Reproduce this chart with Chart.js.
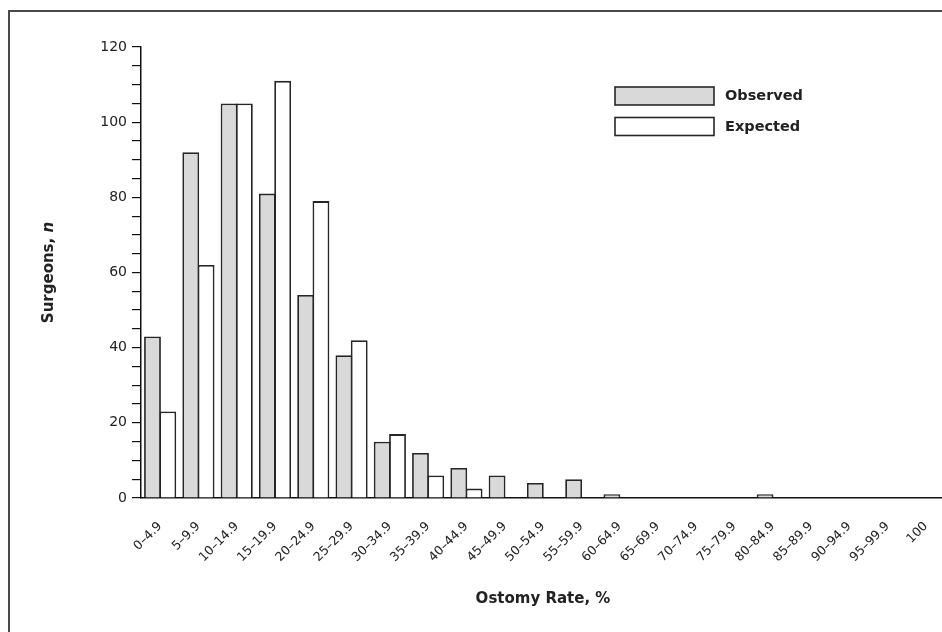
<!DOCTYPE html>
<html>
<head>
<meta charset="utf-8">
<title>Ostomy Rate by Surgeon</title>
<script src="https://cdn.jsdelivr.net/npm/chart.js@4/dist/chart.umd.min.js"></script>
<style>
  html, body { margin: 0; padding: 0; background: #fff; overflow: hidden; width: 942px; height: 632px; }
  #frame { position: absolute; left: 8px; top: 10px; width: 1100px; height: 800px;
           border-left: 2px solid #4a4a4a; border-top: 2px solid #4a4a4a; box-sizing: border-box; }
  #chart { position: absolute; left: 0; top: 0; }
</style>
</head>
<body>
<div id="frame"></div>
<canvas id="chart" width="1000" height="680"></canvas>
<script>
// Ostomy-rate bins (percent of cases per surgeon)
const categories = [
  '0–4.9', '5–9.9', '10–14.9', '15–19.9', '20–24.9', '25–29.9', '30–34.9',
  '35–39.9', '40–44.9', '45–49.9', '50–54.9', '55–59.9', '60–64.9', '65–69.9',
  '70–74.9', '75–79.9', '80–84.9', '85–89.9', '90–94.9', '95–99.9', '100'
];

// Number of surgeons in each bin
const observed = [43, 92, 105, 81, 54, 38, 15, 12, 8, 6, 4, 5, 1, 0, 0, 0, 1, 0, 0, 0, 0];
const expected = [23, 62, 105, 111, 79, 42, 17, 6, 2.5, 0, 0, 0, 0, 0, 0, 0, 0, 0, 0, 0, 0];

// Labelled values on the count axis (minor ticks every 5 in between)
const yTickLabels = [0, 20, 40, 60, 80, 100, 120];

const seriesNames = ['Observed', 'Expected'];
const xTitle = 'Ostomy Rate, %';
const yTitleMain = 'Surgeons, ';
const yTitleItalic = 'n';

const FONT = "'DejaVu Sans', sans-serif";
const INK = '#222';

Chart.defaults.font.family = FONT;
Chart.defaults.color = INK;

// Vertical axis title with an italic "n"
const yTitlePlugin = {
  id: 'yTitle',
  afterDraw(chart) {
    const { ctx, chartArea } = chart;
    const cx = 49;
    const cy = (chartArea.top + chartArea.bottom) / 2;
    ctx.save();
    ctx.translate(cx, cy);
    ctx.rotate(-Math.PI / 2);
    ctx.fillStyle = INK;
    ctx.textBaseline = 'middle';
    const fMain = `bold 15px ${FONT}`;
    const fIt = `italic bold 15px ${FONT}`;
    ctx.font = fMain;
    const w1 = ctx.measureText(yTitleMain).width;
    ctx.font = fIt;
    const w2 = ctx.measureText(yTitleItalic).width;
    const x0 = -(w1 + w2) / 2;
    ctx.font = fMain;
    ctx.textAlign = 'left';
    ctx.fillText(yTitleMain, x0, 0);
    ctx.font = fIt;
    ctx.fillText(yTitleItalic, x0 + w1, 0);
    ctx.restore();
  }
};

// Stacked legend drawn inside the plot area
const innerLegendPlugin = {
  id: 'innerLegend',
  afterDraw(chart, args, opts) {
    const { ctx } = chart;
    ctx.save();
    chart.data.datasets.forEach((ds, i) => {
      const x = opts.x;
      const y = opts.y + i * opts.rowGap;
      ctx.fillStyle = ds.backgroundColor;
      ctx.fillRect(x, y, opts.boxWidth, opts.boxHeight);
      ctx.lineWidth = 1.6;
      ctx.strokeStyle = ds.borderColor;
      ctx.strokeRect(x, y, opts.boxWidth, opts.boxHeight);
      ctx.fillStyle = INK;
      ctx.font = `bold 14.5px ${FONT}`;
      ctx.textAlign = 'left';
      ctx.textBaseline = 'middle';
      ctx.fillText(ds.label, x + opts.boxWidth + 11, y + opts.boxHeight / 2 + 0.5);
    });
    ctx.restore();
  }
};

// Bars of a pair share their middle edge
const barStyle = {
  borderColor: '#262626',
  borderWidth: 1.8,
  categoryPercentage: 0.8,
  barPercentage: 1.1
};

new Chart(document.getElementById('chart'), {
  type: 'bar',
  data: {
    labels: categories,
    datasets: [
      Object.assign({ label: seriesNames[0], data: observed, backgroundColor: '#d9d9d9' }, barStyle),
      Object.assign({ label: seriesNames[1], data: expected, backgroundColor: '#ffffff' }, barStyle)
    ]
  },
  options: {
    responsive: false,
    animation: false,
    devicePixelRatio: 1,
    layout: { padding: { top: 47, right: 55, bottom: 72, left: 0 } },
    plugins: {
      legend: { display: false },
      tooltip: { enabled: false },
      innerLegend: { x: 615, y: 87, rowGap: 30.5, boxWidth: 99, boxHeight: 18 }
    },
    scales: {
      x: {
        afterFit(scale) { scale.height = 110; },
        grid: { display: false, drawTicks: false },
        border: { display: true, color: '#111', width: 1.5 },
        ticks: {
          autoSkip: false,
          minRotation: 45,
          maxRotation: 45,
          padding: 21,
          color: INK,
          font: { size: 12.5 }
        },
        title: {
          display: true,
          text: xTitle,
          color: INK,
          font: { size: 15, weight: 'bold' },
          padding: { top: 0, bottom: 0 }
        }
      },
      y: {
        min: 0,
        max: 120,
        afterFit(scale) { scale.width = 141; },
        grid: {
          display: true,
          drawOnChartArea: false,
          drawTicks: true,
          tickLength: 9,
          color: '#111',
          lineWidth: 1.2
        },
        border: { display: true, color: '#111', width: 1.5 },
        ticks: {
          stepSize: 5,
          autoSkip: false,
          padding: 5,
          color: INK,
          font: { size: 14 },
          callback: (v) => (yTickLabels.includes(v) ? String(v) : '')
        }
      }
    }
  },
  plugins: [yTitlePlugin, innerLegendPlugin]
});
</script>
</body>
</html>
